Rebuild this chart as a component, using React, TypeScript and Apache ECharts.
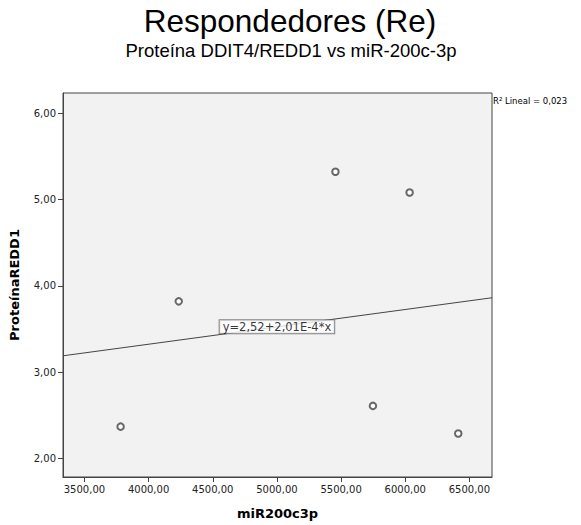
import React, { useEffect, useRef } from "react";
import * as echarts from "echarts";

const mirValues = [3782, 4235, 5456, 6034, 5748, 6413];
const redd1Values = [2.37, 3.82, 5.32, 5.08, 2.61, 2.29];
const xTicks = [3500, 4000, 4500, 5000, 5500, 6000, 6500];
const yTicks = [2, 3, 4, 5, 6];
const fitIntercept = 2.52;
const fitSlope = 2.01e-4;
const fitLabelX = 5000;
const xMin = 3333;
const xMax = 6676;
const yMin = 1.787;
const yMax = 6.232;
const titleText = "Respondedores (Re)";
const subtitleText = "Proteína DDIT4/REDD1 vs miR-200c-3p";
const r2Text = "R² Lineal = 0,023";
const eqText = "y=2,52+2,01E-4*x";

const fmt = (v: number) => v.toFixed(2).replace(".", ",");

export default function App() {
  const ref = useRef<HTMLDivElement>(null);
  useEffect(() => {
    if (!ref.current) return;
    const chart = echarts.init(ref.current, undefined, { renderer: "svg" });
    const pts = mirValues.map((x, i) => [x, redd1Values[i]]);
    const fitLine = [
      [xMin, fitIntercept + fitSlope * xMin],
      [xMax, fitIntercept + fitSlope * xMax],
    ];
    const axisFont = "DejaVu Sans";
    chart.setOption({
      animation: false,
      backgroundColor: "#ffffff",
      graphic: [
        {
          type: "text",
          x: 290,
          y: 21,
          style: {
            text: titleText,
            font: "31.5px 'Liberation Sans'",
            fill: "#000",
            textAlign: "center",
            textVerticalAlign: "middle",
          },
        },
        {
          type: "text",
          x: 291,
          y: 50,
          style: {
            text: subtitleText,
            font: "18.5px 'Liberation Sans'",
            fill: "#000",
            textAlign: "center",
            textVerticalAlign: "middle",
          },
        },
        {
          type: "text",
          x: 493,
          y: 101,
          style: {
            text: r2Text,
            font: "8.5px 'DejaVu Sans'",
            fill: "#000",
            textAlign: "left",
            textVerticalAlign: "middle",
          },
        },
      ],
      grid: {
        left: 61,
        right: 89,
        top: 93,
        bottom: 48,
        show: true,
        backgroundColor: "#f2f2f2",
        borderColor: "#444",
        borderWidth: 1,
      },
      xAxis: {
        type: "value",
        min: xMin,
        max: xMax,
        name: "miR200c3p",
        nameLocation: "middle",
        nameGap: 30,
        nameTextStyle: {
          fontFamily: axisFont,
          fontWeight: "bold",
          fontSize: 13,
          color: "#000",
        },
        splitLine: { show: false },
        axisLine: { show: true, onZero: false, lineStyle: { color: "#444" } },
        axisTick: {
          show: true,
          length: 5,
          customValues: xTicks,
          lineStyle: { color: "#444" },
        },
        axisLabel: {
          customValues: xTicks,
          formatter: (v: number) => fmt(v),
          fontFamily: axisFont,
          fontSize: 10,
          color: "#222",
          margin: 7,
        },
      },
      yAxis: {
        type: "value",
        min: yMin,
        max: yMax,
        name: "ProteínaREDD1",
        nameLocation: "middle",
        nameGap: 42,
        nameTextStyle: {
          fontFamily: axisFont,
          fontWeight: "bold",
          fontSize: 13,
          color: "#000",
        },
        splitLine: { show: false },
        axisLine: { show: true, onZero: false, lineStyle: { color: "#444" } },
        axisTick: {
          show: true,
          length: 5,
          customValues: yTicks,
          lineStyle: { color: "#444" },
        },
        axisLabel: {
          customValues: yTicks,
          formatter: (v: number) => fmt(v),
          fontFamily: axisFont,
          fontSize: 10,
          color: "#222",
          margin: 7,
        },
      },
      series: [
        {
          type: "line",
          data: fitLine,
          symbol: "none",
          silent: true,
          lineStyle: { color: "#444", width: 1 },
          z: 2,
        },
        {
          type: "scatter",
          data: [[fitLabelX, fitIntercept + fitSlope * fitLabelX]],
          symbolSize: 0,
          z: 4,
          label: {
            show: true,
            position: "inside",
            formatter: eqText,
            fontFamily: axisFont,
            fontSize: 11.5,
            color: "#000",
            backgroundColor: "#ffffff",
            borderColor: "#666",
            borderWidth: 1,
            padding: [1, 3, 0, 3],
          },
        },
        {
          type: "scatter",
          data: pts,
          symbol: "emptyCircle",
          symbolSize: 6.5,
          itemStyle: { color: "#444", borderColor: "#444", borderWidth: 1 },
          z: 5,
        },
      ],
    });
    return () => chart.dispose();
  }, []);
  return (
    <div
      ref={ref}
      style={{ position: "fixed", left: 0, top: 0, width: 581, height: 525 }}
    />
  );
}
